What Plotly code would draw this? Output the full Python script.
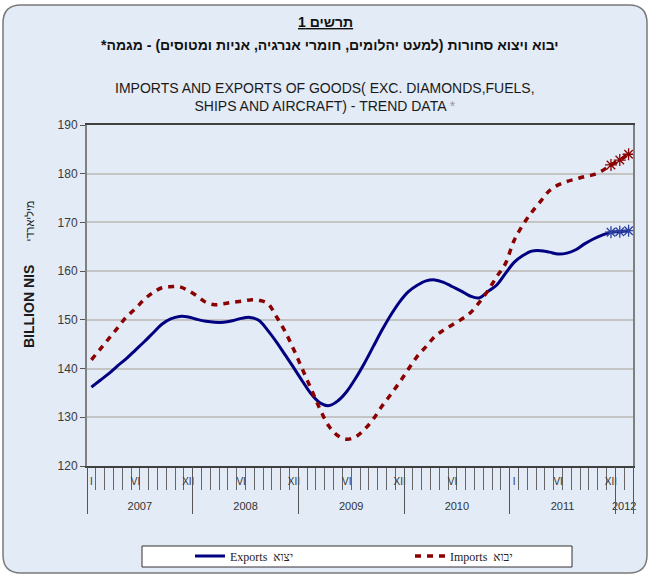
import plotly.graph_objects as go

# ---------------- data ----------------
years = ["2007", "2008", "2009", "2010", "2011", "2012"]
months_in_year = [12, 12, 12, 12, 12, 2]
roman = ["I", "II", "III", "IV", "V", "VI", "VII", "VIII", "IX", "X", "XI", "XII"]
shown_month_labels = [("2007", "I"), ("2007", "VI"), ("2007", "XII"),
                      ("2008", "VI"), ("2008", "XII"),
                      ("2009", "VI"), ("2009", "XII"),
                      ("2010", "VI"),
                      ("2011", "I"), ("2011", "VI"), ("2011", "XII")]

exports = [136.2, 137.6, 139.0, 140.6, 142.1, 143.8, 145.5, 147.3, 149.1, 150.2, 150.7, 150.6,
           150.1, 149.7, 149.5, 149.5, 149.8, 150.3, 150.5, 149.9, 147.9, 145.5, 142.8, 140.1,
           137.3, 134.7, 132.9, 132.4, 133.4, 135.3, 138.0, 141.1, 144.5, 147.9, 151.0, 153.7,
           155.8, 157.1, 158.0, 158.2, 157.7, 156.8, 155.9, 154.9, 154.5, 155.8, 157.1, 159.5,
           161.8, 163.2, 164.1, 164.2, 163.9, 163.5, 163.7, 164.4, 165.6, 166.6, 167.4, 168.0,
           168.1, 168.3]
imports = [141.8, 144.0, 146.2, 148.4, 150.7, 152.3, 154.2, 155.6, 156.6, 156.8, 156.8, 156.0,
           154.9, 153.6, 153.1, 153.3, 153.6, 153.8, 154.1, 154.0, 153.4, 150.7, 147.6, 143.8,
           139.7, 135.6, 131.5, 128.1, 126.2, 125.5, 126.0, 127.5, 129.6, 132.3, 134.7, 137.2,
           139.9, 142.5, 144.5, 146.6, 147.9, 149.0, 150.1, 151.4, 153.5, 155.9, 158.8, 161.5,
           166.3, 169.5, 172.1, 174.3, 176.5, 177.7, 178.4, 178.9, 179.4, 179.8, 180.6, 181.8,
           182.8, 184.0]
preliminary_points = 3

# ---------------- derived axis positions ----------------
n = len(exports)
xs = list(range(n))
month_keys = [(y, roman[m]) for y, cnt in zip(years, months_in_year) for m in range(cnt)]
label_idx = [month_keys.index(k) for k in shown_month_labels]
label_txt = [k[1] for k in shown_month_labels]
bounds = [-0.5]
for cnt in months_in_year:
    bounds.append(bounds[-1] + cnt)
year_centers = [(bounds[i] + bounds[i + 1]) / 2 for i in range(len(years))]
month_bounds = [i - 0.5 for i in range(n + 1)]

W, H = 650, 577
L, R, T, B = 87, 17, 125, 111
PW, PH = W - L - R, H - T - B


def px(xp):
    return (xp - L) / PW


def py(yp):
    return (H - B - yp) / PH


FONT = "Liberation Sans, Arial, sans-serif"
NAVY = "#000080"
MAROON = "#8b0000"

fig = go.Figure()
fig.add_trace(go.Scatter(x=xs, y=exports, mode="lines", name="Exports  יצוא",
                         line=dict(color=NAVY, width=3, shape="spline")))
fig.add_trace(go.Scatter(x=xs, y=imports, mode="lines", name="Imports  יבוא", xaxis="x4",
                         line=dict(color=MAROON, width=3.5, shape="spline", dash="6px,6px")))
fig.add_trace(go.Scatter(x=xs[-preliminary_points:], y=exports[-preliminary_points:], mode="markers",
                         xaxis="x2", showlegend=False,
                         marker=dict(symbol="asterisk-open", size=10, color="#2b3f9e",
                                     line=dict(color="#2b3f9e", width=1.3))))
fig.add_trace(go.Scatter(x=xs[-preliminary_points:], y=imports[-preliminary_points:], mode="markers",
                         xaxis="x3", showlegend=False,
                         marker=dict(symbol="asterisk-open", size=10, color=MAROON,
                                     line=dict(color=MAROON, width=1.3))))

xr = [-0.5, n - 0.5]
common = dict(range=xr, showgrid=False, zeroline=False, tickmode="array", automargin=False)
fig.update_layout(
    width=W, height=H,
    margin=dict(l=L, r=R, t=T, b=B, pad=0, autoexpand=False),
    paper_bgcolor="white", plot_bgcolor="white",
    font=dict(family=FONT, color="#333333"),
    showlegend=True,
    # month boundary ticks
    xaxis=dict(**common, showline=True, linecolor="#404040", linewidth=1.5, mirror=True,
               tickvals=month_bounds, ticktext=[""] * len(month_bounds), ticks="outside",
               ticklen=22, tickwidth=1, tickcolor="#666666"),
    # month labels
    xaxis2=dict(**common, overlaying="x", anchor="y", side="bottom", showline=False,
                tickvals=label_idx, ticktext=label_txt, ticks="", ticklabelstandoff=8,
                tickfont=dict(size=10, color="#333333", family=FONT)),
    # year labels
    xaxis3=dict(**common, overlaying="x", anchor="y", side="bottom", showline=False,
                tickvals=year_centers, ticktext=years, ticks="", ticklabelstandoff=32,
                tickfont=dict(size=11, color="#333333", family=FONT)),
    # year dividers
    xaxis4=dict(**common, overlaying="x", anchor="y", side="bottom", showline=False,
                tickvals=bounds, ticktext=[""] * len(bounds), ticks="outside", ticklen=47,
                tickwidth=1, tickcolor="#555555"),
    yaxis=dict(range=[120, 190], dtick=10, tick0=120, showgrid=True, gridcolor="#c4c4c4",
               gridwidth=1.5, zeroline=False, showline=True, linecolor="#808080", linewidth=2,
               mirror=True, ticks="outside", ticklen=5, tickcolor="#555555", automargin=False,
               tickfont=dict(size=12, color="#3a3a3a", family=FONT)),
    legend=dict(orientation="h", x=px(190), y=py(556), xanchor="left", yanchor="middle",
                bgcolor="rgba(0,0,0,0)", borderwidth=0, entrywidth=175, entrywidthmode="pixels",
                font=dict(family="Liberation Serif, Times New Roman, serif", size=12, color="#222222")),
)

# rounded background panel
x0, y0, x1, y1, r = 3, 5, 647, 573, 18
path = (f"M {px(x0 + r)},{py(y0)} L {px(x1 - r)},{py(y0)} Q {px(x1)},{py(y0)} {px(x1)},{py(y0 + r)} "
        f"L {px(x1)},{py(y1 - r)} Q {px(x1)},{py(y1)} {px(x1 - r)},{py(y1)} "
        f"L {px(x0 + r)},{py(y1)} Q {px(x0)},{py(y1)} {px(x0)},{py(y1 - r)} "
        f"L {px(x0)},{py(y0 + r)} Q {px(x0)},{py(y0)} {px(x0 + r)},{py(y0)} Z")
fig.add_shape(type="path", path=path, xref="paper", yref="paper", layer="below",
              fillcolor="#e3ebf6", line=dict(color="#7a7a7a", width=1.5))
# legend frame
fig.add_shape(type="rect", xref="paper", yref="paper", layer="below",
              x0=px(142), x1=px(572), y0=py(546), y1=py(567),
              fillcolor="white", line=dict(color="#333333", width=1))

ann = dict(xref="paper", yref="paper", showarrow=False, xanchor="center", yanchor="middle")
fig.add_annotation(text="<b><u>תרשים 1</u></b>", x=px(325), y=py(22),
                   font=dict(size=14, color="#111111", family=FONT), **ann)
fig.add_annotation(text="<b>יבוא ויצוא סחורות (למעט יהלומים, חומרי אנרגיה, אניות ומטוסים) - מגמה*\u200F</b>",
                   x=px(330), y=py(45), font=dict(size=14, color="#111111", family=FONT), **ann)
fig.add_annotation(text="IMPORTS AND EXPORTS OF GOODS( EXC. DIAMONDS,FUELS,<br>"
                        "SHIPS AND AIRCRAFT) - TREND DATA <span style='color:#999999'>*</span>",
                   x=px(325), y=py(97), align="center",
                   font=dict(size=14, color="#1a1a1a", family=FONT), **ann)
fig.add_annotation(text="<b>BILLION NIS</b>      <span style='font-size:11px'>מיליארדי</span>",
                   x=px(29), y=py(275), textangle=-90,
                   font=dict(size=14, color="#1a1a1a", family=FONT), **ann)

fig.write_html("out.html", config={"displayModeBar": False},
               post_script="document.body.style.margin='0';document.body.style.overflow='hidden';")
